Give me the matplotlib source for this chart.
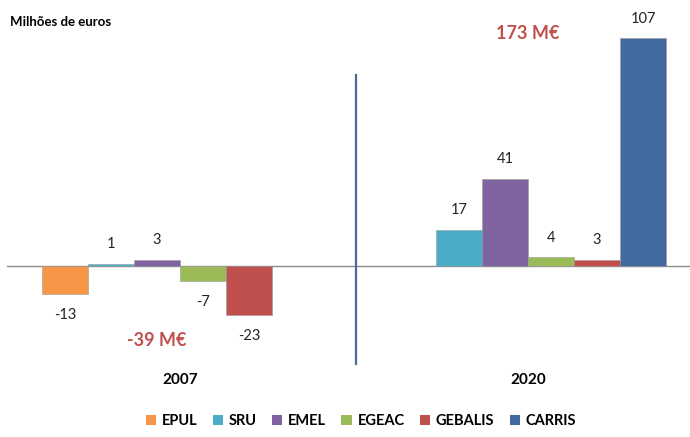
import matplotlib
matplotlib.use("Agg")
import matplotlib.pyplot as plt
from matplotlib.patches import Patch
import numpy as np

plt.rcParams['font.family'] = ['Lato', 'DejaVu Sans']

years = ["2007", "2020"]
companies = ["EPUL", "SRU", "EMEL", "EGEAC", "GEBALIS", "CARRIS"]
values_2007 = [-13, 1, 3, -7, -23, None]
values_2020 = [None, 17, 41, 4, 3, 107]
totals = ["-39 M€", "173 M€"]
colors = ["#F79646", "#4BACC6", "#8064A2", "#9BBB59", "#C0504D", "#416A9E"]

fig = plt.figure(figsize=(6.9, 4.37), dpi=100)
ax = fig.add_axes([7/690, 1-365/437, 683/690, 345/437])

n = len(companies)
w = 46/348
xs = np.arange(len(years))
series = [values_2007, values_2020]
for i, comp in enumerate(companies):
    for j in range(len(years)):
        v = series[j][i]
        if v is None:
            continue
        x = xs[j] + (i - (n-1)/2) * w
        ax.bar(x, v, width=w, color=colors[i], edgecolor='#9a9a9a', linewidth=0.4, zorder=3)
        off = 14 if v >= 0 else -15
        ax.annotate(f"{v}", (x, v), xytext=(0, off), textcoords='offset points',
                    ha='center', va='center', fontsize=10.5, color='#222222', zorder=4)

ax.set_xlim((7-180)/348, (690-180)/348)
ax.set_ylim(-(365-266)/2.131, (266-20)/2.131)
ax.axhline(0, color='#8c8c8c', lw=1, zorder=2)
ax.plot([0.5+2/348, 0.5+2/348], [-(365-266)/2.131, (266-75)/2.131], color='#4a6c98', lw=1.6, zorder=2)

# totals
ax.text(xs[0] - 0.5*w, -(341-266)/2.131, totals[0], ha='center', va='center',
        fontsize=13, fontweight='bold', color='#C0504D')
ax.text(xs[1], (266-34)/2.131, totals[1], ha='center', va='center',
        fontsize=13, fontweight='bold', color='#C0504D')

for s in ax.spines.values():
    s.set_visible(False)
ax.set_yticks([])
ax.set_xticks(xs)
ax.set_xticklabels(years, fontsize=11, fontweight='bold')
ax.tick_params(axis='x', length=0, pad=6)

fig.text(10/690, 1-22/437, "Milhões de euros", fontsize=9.5, fontweight='bold', va='center', ha='left')

handles = [Patch(facecolor=c, label=l) for c, l in zip(colors, companies)]
leg = fig.legend(handles=handles, loc='center', bbox_to_anchor=(361/690, 1-421/437), ncol=6,
                 frameon=False, handlelength=0.7, handleheight=0.7, handletextpad=0.4,
                 columnspacing=1.05, prop={'weight': 'bold', 'size': 10.5})

fig.savefig("out.png", dpi=100)
